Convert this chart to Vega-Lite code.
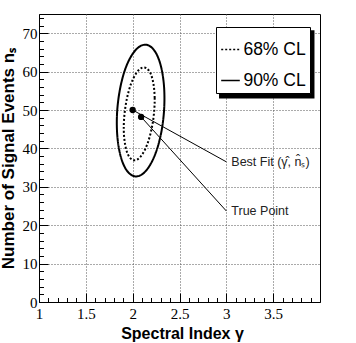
{
  "$schema": "https://vega.github.io/schema/vega-lite/v6.json",
  "width": 281,
  "height": 288,
  "autosize": {"type": "none"},
  "padding": {"left": 39, "top": 14, "right": 36, "bottom": 41},
  "background": "white",
  "config": {
    "view": {"stroke": "black", "strokeWidth": 1},
    "axis": {
      "domainColor": "black",
      "tickColor": "black",
      "grid": true,
      "gridColor": "#555555",
      "gridDash": [1, 2],
      "gridWidth": 1,
      "labelFont": "Liberation Serif",
      "labelFontSize": 15,
      "labelColor": "black",
      "labelOverlap": false,
      "labelFlush": false,
      "titleFont": "Liberation Sans",
      "titleFontWeight": "bold",
      "titleColor": "black"
    }
  },
  "datasets": {
    "contours": [
      {"level": "68% CL", "i": 0, "gamma": 2.227, "ns": 49.0},
      {"level": "68% CL", "i": 1, "gamma": 2.235, "ns": 53.14},
      {"level": "68% CL", "i": 2, "gamma": 2.222, "ns": 56.78},
      {"level": "68% CL", "i": 3, "gamma": 2.192, "ns": 59.48},
      {"level": "68% CL", "i": 4, "gamma": 2.146, "ns": 60.92},
      {"level": "68% CL", "i": 5, "gamma": 2.092, "ns": 60.92},
      {"level": "68% CL", "i": 6, "gamma": 2.035, "ns": 59.48},
      {"level": "68% CL", "i": 7, "gamma": 1.982, "ns": 56.78},
      {"level": "68% CL", "i": 8, "gamma": 1.940, "ns": 53.14},
      {"level": "68% CL", "i": 9, "gamma": 1.913, "ns": 49.0},
      {"level": "68% CL", "i": 10, "gamma": 1.905, "ns": 44.86},
      {"level": "68% CL", "i": 11, "gamma": 1.918, "ns": 41.22},
      {"level": "68% CL", "i": 12, "gamma": 1.948, "ns": 38.52},
      {"level": "68% CL", "i": 13, "gamma": 1.994, "ns": 37.08},
      {"level": "68% CL", "i": 14, "gamma": 2.048, "ns": 37.08},
      {"level": "68% CL", "i": 15, "gamma": 2.105, "ns": 38.52},
      {"level": "68% CL", "i": 16, "gamma": 2.158, "ns": 41.22},
      {"level": "68% CL", "i": 17, "gamma": 2.200, "ns": 44.86},
      {"level": "90% CL", "i": 0, "gamma": 2.335, "ns": 49.85},
      {"level": "90% CL", "i": 1, "gamma": 2.336, "ns": 55.72},
      {"level": "90% CL", "i": 2, "gamma": 2.307, "ns": 60.87},
      {"level": "90% CL", "i": 3, "gamma": 2.252, "ns": 64.70},
      {"level": "90% CL", "i": 4, "gamma": 2.176, "ns": 66.74},
      {"level": "90% CL", "i": 5, "gamma": 2.089, "ns": 66.74},
      {"level": "90% CL", "i": 6, "gamma": 2.002, "ns": 64.70},
      {"level": "90% CL", "i": 7, "gamma": 1.924, "ns": 60.87},
      {"level": "90% CL", "i": 8, "gamma": 1.867, "ns": 55.72},
      {"level": "90% CL", "i": 9, "gamma": 1.835, "ns": 49.85},
      {"level": "90% CL", "i": 10, "gamma": 1.834, "ns": 43.98},
      {"level": "90% CL", "i": 11, "gamma": 1.863, "ns": 38.83},
      {"level": "90% CL", "i": 12, "gamma": 1.918, "ns": 35.00},
      {"level": "90% CL", "i": 13, "gamma": 1.994, "ns": 32.96},
      {"level": "90% CL", "i": 14, "gamma": 2.081, "ns": 32.96},
      {"level": "90% CL", "i": 15, "gamma": 2.168, "ns": 35.00},
      {"level": "90% CL", "i": 16, "gamma": 2.246, "ns": 38.83},
      {"level": "90% CL", "i": 17, "gamma": 2.304, "ns": 43.98}
    ],
    "points": [
      {"name": "Best Fit (\u03b3\u0302, n\u0302\u209b)", "gamma": 2.0, "ns": 50.0, "labelGamma": 3.0, "labelNs": 36.5},
      {"name": "True Point", "gamma": 2.09, "ns": 48.2, "labelGamma": 3.0, "labelNs": 23.7}
    ]
  },
  "layer": [
    {
      "data": {"values": [{}]},
      "mark": {"type": "rect", "color": "black"},
      "encoding": {
        "x": {"datum": 2.922, "type": "quantitative"},
        "x2": {"datum": 3.941},
        "y": {"datum": 70.8, "type": "quantitative"},
        "y2": {"datum": 53.0}
      }
    },
    {
      "data": {"name": "contours"},
      "mark": {"type": "line", "interpolate": "cardinal-closed", "color": "black", "strokeWidth": 2},
      "encoding": {
        "x": {
          "field": "gamma", "type": "quantitative",
          "scale": {"domain": [1, 4], "nice": false, "zero": false},
          "axis": {
            "title": "Spectral Index \u03b3",
            "titleFontSize": 16,
            "titleX": 143,
            "titleY": 31,
            "titleBaseline": "middle",
            "titleAlign": "center",
            "tickCount": 200,
            "values": [1, 1.1, 1.2, 1.3, 1.4, 1.5, 1.6, 1.7, 1.8, 1.9, 2, 2.1, 2.2, 2.3, 2.4, 2.5, 2.6, 2.7, 2.8, 2.9, 3, 3.1, 3.2, 3.3, 3.4, 3.5, 3.6, 3.7, 3.8, 3.9],
            "labelExpr": "abs(datum.value*2-round(datum.value*2))<0.001 ? format(datum.value, '~g') : ''",
            "tickSize": {"condition": {"test": "abs(datum.value*2-round(datum.value*2))<0.001", "value": -9}, "value": -4.5},
            "gridOpacity": {"condition": {"test": "abs(datum.value*2-round(datum.value*2))<0.001", "value": 1}, "value": 0},
            "labelPadding": 13
          }
        },
        "y": {
          "field": "ns", "type": "quantitative",
          "scale": {"domain": [0, 75], "nice": false, "zero": false},
          "axis": {
            "title": "Number of Signal Events n\u209b",
            "titleFontSize": 17,
            "titleX": -31,
            "titleY": 144,
            "titleAngle": -90,
            "titleBaseline": "middle",
            "titleAlign": "center",
            "tickCount": 200,
            "values": [0, 2, 4, 6, 8, 10, 12, 14, 16, 18, 20, 22, 24, 26, 28, 30, 32, 34, 36, 38, 40, 42, 44, 46, 48, 50, 52, 54, 56, 58, 60, 62, 64, 66, 68, 70, 72, 74],
            "labelExpr": "datum.value % 10 == 0 ? format(datum.value, 'd') : ''",
            "tickSize": {"condition": {"test": "datum.value % 10 == 0", "value": -9}, "value": -4.5},
            "gridOpacity": {"condition": {"test": "datum.value % 10 == 0", "value": 1}, "value": 0},
            "labelPadding": 11
          }
        },
        "order": {"field": "i", "type": "quantitative"},
        "strokeDash": {
          "field": "level", "type": "nominal",
          "scale": {"domain": ["68% CL", "90% CL"], "range": [[2, 2], [1, 0]]},
          "legend": {
            "orient": "none",
            "legendX": 177,
            "legendY": 13,
            "title": " ",
            "titleFontSize": 6,
            "titlePadding": 2,
            "padding": 4,
            "fillColor": "white",
            "strokeColor": "black",
            "symbolType": "stroke",
            "symbolSize": 346,
            "symbolStrokeWidth": 1.5,
            "symbolStrokeColor": "black",
            "labelFont": "Liberation Sans",
            "labelFontSize": 17.5,
            "labelColor": "black",
            "labelOffset": 2.4,
            "rowPadding": 12
          }
        }
      }
    },
    {
      "data": {"name": "points"},
      "mark": {"type": "rule", "color": "black", "strokeWidth": 1},
      "encoding": {
        "x": {"field": "gamma", "type": "quantitative"},
        "y": {"field": "ns", "type": "quantitative"},
        "x2": {"field": "labelGamma"},
        "y2": {"field": "labelNs"}
      }
    },
    {
      "data": {"name": "points"},
      "mark": {"type": "point", "filled": true, "shape": "circle", "size": 40, "color": "black", "opacity": 1},
      "encoding": {
        "x": {"field": "gamma", "type": "quantitative"},
        "y": {"field": "ns", "type": "quantitative"}
      }
    },
    {
      "data": {"name": "points"},
      "mark": {"type": "text", "align": "left", "baseline": "middle", "dx": 5, "font": "Liberation Sans", "fontSize": 12.5, "color": "#222222"},
      "encoding": {
        "x": {"field": "labelGamma", "type": "quantitative"},
        "y": {"field": "labelNs", "type": "quantitative"},
        "text": {"field": "name"}
      }
    }
  ]
}
